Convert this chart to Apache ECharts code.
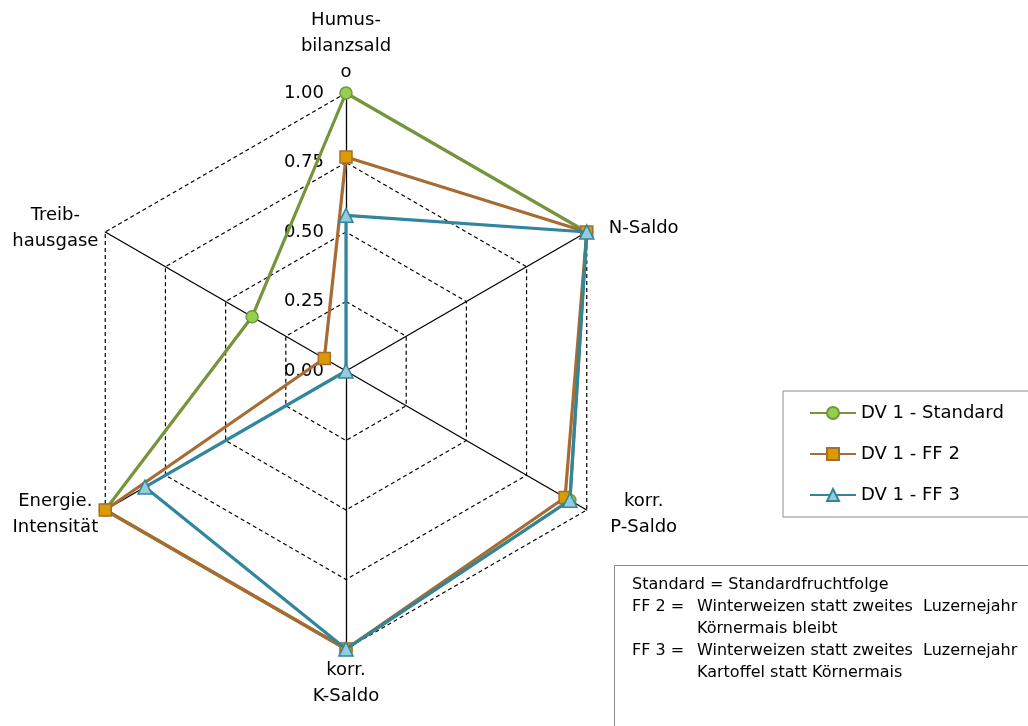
<!DOCTYPE html>
<html>
<head>
<meta charset="utf-8">
<script src="https://cdn.jsdelivr.net/npm/echarts@6/dist/echarts.min.js"></script>
<style>
  html, body { margin: 0; padding: 0; background: #fff; }
  #chart { width: 1028px; height: 726px; }
</style>
</head>
<body>
<div id="chart"></div>
<script>
// Axes in clockwise order starting at the top
const categories = ['Humus-\nbilanzsald\no', 'N-Saldo', 'korr.\nP-Saldo', 'korr.\nK-Saldo', 'Energie.\nIntensität', 'Treib-\nhausgase'];
const seriesNames = ['DV 1 - Standard', 'DV 1 - FF 2', 'DV 1 - FF 3'];
const valuesStandard = [1.00, 1.00, 0.93, 1.00, 1.00, 0.39];
const valuesFF2 = [0.77, 1.00, 0.91, 1.00, 1.00, 0.09];
const valuesFF3 = [0.56, 1.00, 0.93, 1.00, 0.835, 0.00];
const tickValues = [0, 0.25, 0.5, 0.75, 1];
const noteLines = [
  ['Standard = Standardfruchtfolge', ''],
  ['FF 2 =', 'Winterweizen statt zweites  Luzernejahr'],
  ['', 'Körnermais bleibt'],
  ['FF 3 =', 'Winterweizen statt zweites  Luzernejahr'],
  ['', 'Kartoffel statt Körnermais']
];

const FONT = '"DejaVu Sans", sans-serif';

// radar runs counter-clockwise, so walk the axes in reverse after the first
const order = [0, 5, 4, 3, 2, 1];
const reorder = arr => order.map(i => arr[i]);

const indicators = order.map((i, k) => ({
  name: categories[i],
  min: 0,
  max: 1,
  axisLabel: k === 0 ? { show: true } : { show: false }
}));

// names on the left side sit in a narrower centred block
const leftNames = [categories[4], categories[5]];
const nameFormatter = name => {
  const tag = leftNames.indexOf(name) >= 0 ? 'l' : 'c';
  return name.split('\n').map(s => '{' + tag + '|' + s + '}').join('\n');
};

const styles = [
  { line: '#77933C', fill: '#92D050', border: '#77933C', symbol: 'circle', size: 12 },
  { line: '#A86B32', fill: '#D89C00', border: '#A86B32', symbol: 'rect', size: 12 },
  { line: '#31859C', fill: '#93CDDD', border: '#31859C', symbol: 'triangle', size: 14 }
];
const allValues = [valuesStandard, valuesFF2, valuesFF3];

// empty line series only supply the line-with-marker legend icons
const legendSeries = seriesNames.map((name, s) => ({
  type: 'line',
  name: name,
  data: [],
  symbol: styles[s].symbol,
  symbolSize: styles[s].size,
  lineStyle: { color: styles[s].line, width: 3 },
  itemStyle: { color: styles[s].fill, borderColor: styles[s].border, borderWidth: 1.5 }
}));

const radarSeries = allValues.map((vals, s) => ({
  type: 'radar',
  name: seriesNames[s],
  symbol: styles[s].symbol,
  symbolSize: styles[s].size,
  lineStyle: { color: styles[s].line, width: 3.2 },
  itemStyle: { color: styles[s].fill, borderColor: styles[s].border, borderWidth: 1.5 },
  z: 2 + s,
  data: [{ name: seriesNames[s], value: reorder(vals) }]
}));

const noteGraphics = [];
noteLines.forEach((ln, i) => {
  if (ln[0]) noteGraphics.push({ type: 'text', left: 632, top: 577 + i * 22,
    style: { text: ln[0], font: '16px ' + FONT, fill: '#000' } });
  if (ln[1]) noteGraphics.push({ type: 'text', left: 697, top: 577 + i * 22,
    style: { text: ln[1], font: '16px ' + FONT, fill: '#000' } });
});

const nameRich = w => ({ width: w, align: 'center', fontSize: 18, fontFamily: FONT, color: '#000', lineHeight: 26 });

const chart = echarts.init(document.getElementById('chart'), null, { renderer: 'canvas' });
chart.setOption({
  animation: false,
  backgroundColor: '#fff',
  grid: { show: false, left: 0, top: 0, width: 1, height: 1 },
  xAxis: { type: 'value', show: false },
  yAxis: { type: 'value', show: false },
  legend: {
    orient: 'vertical',
    left: 783,
    top: 391,
    data: seriesNames,
    itemWidth: 46,
    itemHeight: 15,
    itemGap: 23,
    padding: [13, 34, 13, 26],
    borderColor: '#8c8c8c',
    borderWidth: 1,
    textStyle: { fontSize: 18, color: '#000', fontFamily: FONT }
  },
  radar: {
    center: [346, 371],
    radius: 278,
    startAngle: 90,
    shape: 'polygon',
    splitNumber: 4,
    indicator: indicators,
    axisName: {
      color: '#000',
      fontSize: 18,
      fontFamily: FONT,
      formatter: nameFormatter,
      rich: { c: nameRich(100), l: nameRich(86) }
    },
    nameGap: 8,
    axisLine: { lineStyle: { color: '#000', width: 1.3 } },
    splitLine: { lineStyle: { color: '#000', width: 1.2, type: [4, 3] } },
    splitArea: { show: false },
    axisTick: { show: false },
    axisLabel: {
      show: false,
      color: '#000',
      fontSize: 18,
      fontFamily: FONT,
      margin: 22,
      formatter: v => tickValues.indexOf(v) >= 0 ? v.toFixed(2) : ''
    }
  },
  series: [...legendSeries, ...radarSeries],
  graphic: [
    { type: 'rect', shape: { x: 614.5, y: 565.5, width: 500, height: 200 },
      style: { fill: '#fff', stroke: '#8c8c8c', lineWidth: 1 } },
    ...noteGraphics
  ]
});
</script>
</body>
</html>
